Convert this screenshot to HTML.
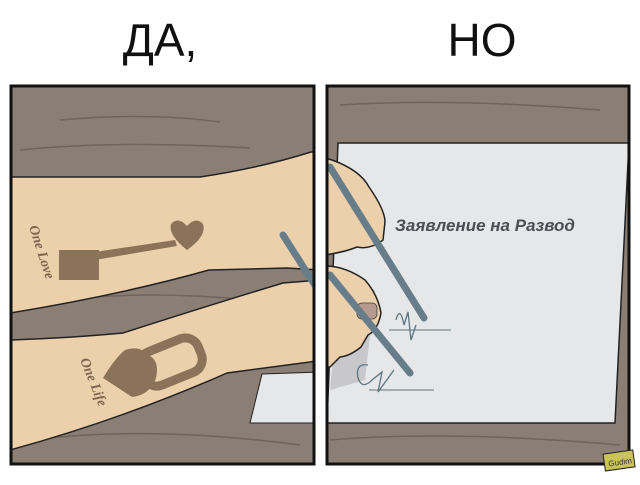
<!DOCTYPE html>
<html><head><meta charset="utf-8"><style>
body{margin:0;background:#fff;width:640px;height:480px;overflow:hidden}
</style></head><body>
<svg width="640" height="480" viewBox="0 0 640 480" xmlns="http://www.w3.org/2000/svg">
<rect width="640" height="480" fill="#fff"/>
<text x="160" y="56" font-family="Liberation Sans, DejaVu Sans, sans-serif" font-size="46" text-anchor="middle" fill="#111">ДА,</text>
<text x="482" y="56" font-family="Liberation Sans, DejaVu Sans, sans-serif" font-size="46" text-anchor="middle" fill="#111">НО</text>
<defs>
<clipPath id="L"><rect x="11" y="86" width="303" height="378"/></clipPath>
<clipPath id="R"><rect x="327" y="86" width="302" height="378"/></clipPath>
</defs>
<g clip-path="url(#L)">
<rect x="0" y="80" width="320" height="390" fill="#8a7e75"/>
<g stroke="#6f655d" stroke-width="1.5" fill="none">
<path d="M60 120 Q150 112 220 122"/><path d="M20 150 Q120 140 250 148"/><path d="M30 440 Q150 425 300 445"/><path d="M60 300 Q150 290 250 300"/>
</g>
<polygon points="262,374 320,372 320,423 250,423" fill="#e6e7e9" stroke="#222"/>
<path d="M10 177 L200 177 Q260 168 311 152 L320 152 L320 270 L287 268 L209 270 Q120 295 10 313 Z" fill="#ecd0ac" stroke="#222" stroke-width="1.5"/>
<path d="M10 340 Q70 338 123 333 Q210 305 283 283 L320 280 L320 360 L310 362 L227 373 Q120 420 10 450 Z" fill="#ecd0ac" stroke="#222" stroke-width="1.5"/>
<g fill="#8a7358">
<polygon points="95,252 175,240 177,246 95,260"/>
<rect x="59" y="250" width="40" height="30"/>
<path d="M187 250 Q168 235 171 224 Q178 216 187 226 Q196 216 203 224 Q207 236 187 250 Z"/>
</g>
<rect x="140" y="344" width="62" height="36" rx="14" fill="none" stroke="#8a7358" stroke-width="9" transform="rotate(-22 171 362)"/>
<path d="M103 378 Q115 358 125 350 Q140 345 148 355 Q160 360 156 378 Q150 395 132 397 Z" fill="#8a7358"/>
<text x="29" y="227" font-family="Liberation Serif, serif" font-style="italic" font-weight="bold" font-size="14" fill="#7d6550" transform="rotate(72 29 227)">One Love</text>
<text x="80" y="360" font-family="Liberation Serif, serif" font-style="italic" font-weight="bold" font-size="14" fill="#7d6550" transform="rotate(68 80 360)">One Life</text>
<line x1="283" y1="235" x2="318" y2="290" stroke="#677e8a" stroke-width="7" stroke-linecap="round"/>
</g>
<rect x="11" y="86" width="303" height="378" fill="none" stroke="#111" stroke-width="3"/>
<g clip-path="url(#R)">
<rect x="320" y="80" width="320" height="390" fill="#8a7e75"/>
<g stroke="#6f655d" stroke-width="1.5" fill="none">
<path d="M340 105 Q450 98 600 110"/><path d="M330 440 Q450 430 620 445"/>
</g>
<polygon points="338,143 629,143 615,423 327,423" fill="#e6e7e9" stroke="#222" stroke-width="1.5"/>
<text x="395" y="231" font-family="Liberation Sans, DejaVu Sans, sans-serif" font-style="italic" font-weight="bold" font-size="17" fill="#4a4e55">Заявление на Развод</text>
<path d="M340 280 L375 290 L365 380 L330 390 Z" fill="#a9aaae" opacity="0.5"/>
<path d="M325 158 L332 160 Q360 170 369 187 Q385 210 385 222 L383 240 Q370 250 357 247 Q345 252 325 255 Z" fill="#ecd0ac" stroke="#222" stroke-width="1.5"/>
<path d="M325 266 Q345 266 365 280 Q378 295 381 313 Q378 330 368 335 L361 347 Q350 356 340 357 L330 367 L325 367 Z" fill="#ecd0ac" stroke="#222" stroke-width="1.5"/>
<rect x="357" y="303" width="20" height="16" rx="5" fill="#b79a8f" stroke="#444" stroke-width="0.8"/>
<line x1="330" y1="167" x2="424" y2="318" stroke="#677e8a" stroke-width="7" stroke-linecap="round"/>
<line x1="330" y1="275" x2="410" y2="373" stroke="#677e8a" stroke-width="7" stroke-linecap="round"/>
<g stroke="#5c7580" stroke-width="1.3" fill="none">
<path d="M396 320 Q400 305 404 325 L408 312 L411 340 L416 325"/>
<path d="M368 365 Q355 363 358 378 Q362 390 372 380 L382 372 L378 392 L394 370"/>
</g>
<line x1="389" y1="330" x2="451" y2="330" stroke="#5c7580"/>
<line x1="369" y1="390" x2="434" y2="390" stroke="#5c7580"/>
</g>
<rect x="327" y="86" width="302" height="378" fill="none" stroke="#111" stroke-width="3"/>
<rect x="604" y="452" width="30" height="17" fill="#c9c35a" stroke="#222" transform="rotate(-8 619 460)"/>
<text x="608" y="465" font-family="Liberation Sans, sans-serif" font-size="8" fill="#333" transform="rotate(-8 619 460)">Gudim</text>
</svg>
</body></html>
